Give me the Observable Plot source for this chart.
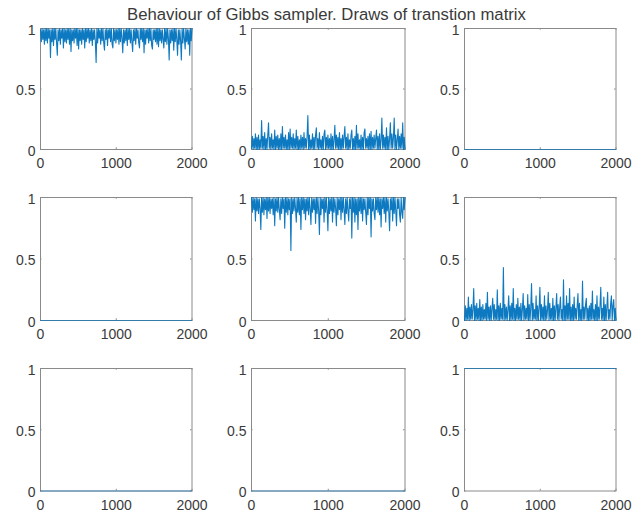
<!DOCTYPE html>
<html><head><meta charset="utf-8">
<script src="https://cdn.jsdelivr.net/npm/d3@7"></script>
<script src="https://cdn.jsdelivr.net/npm/@observablehq/plot@0.6"></script>
<style>
body{margin:0;background:#fff;}
#fig{position:relative;width:634px;height:517px;background:#fff;overflow:hidden;font-family:"Liberation Sans",Arial,sans-serif;}
#fig > svg{position:absolute;}
</style></head><body><div id="fig"></div>
<script>
const title = "Behaviour of Gibbs sampler. Draws of transtion matrix";
const xTicks = [0, 1000, 2000];
const yTicks = [0, 0.5, 1];
const drawRange = [1, 2000];

// Draws of P(1,1)
const p11 = [
0.99,0.89,1.00,0.91,0.99,0.87,1.00,0.90,1.00,0.88,1.00,0.92,0.99,0.76,0.99,0.89,1.00,0.86,1.00,0.91,
1.00,0.88,0.78,0.99,0.90,1.00,0.87,0.99,0.92,1.00,0.84,1.00,0.89,0.99,0.88,1.00,0.91,1.00,0.87,1.00,
0.81,0.99,0.90,0.99,0.88,1.00,0.92,1.00,0.86,1.00,0.83,0.99,0.90,0.99,0.87,1.00,0.91,0.99,0.84,1.00,
0.89,1.00,0.92,1.00,0.88,0.99,0.90,1.00,0.86,0.99,0.91,0.99,0.89,0.72,1.00,0.88,1.00,0.92,0.99,0.87,
1.00,0.90,1.00,0.88,0.82,0.99,0.91,1.00,0.86,0.99,0.92,1.00,0.89,1.00,0.87,0.84,1.00,0.90,0.99,0.88,
0.99,0.91,1.00,0.87,1.00,0.89,1.00,0.92,0.80,0.99,0.88,0.99,0.90,1.00,0.86,1.00,0.91,1.00,0.88,0.99,
0.89,0.81,0.99,0.90,1.00,0.87,1.00,0.92,0.99,0.88,0.84,1.00,0.91,1.00,0.89,1.00,0.80,0.99,0.87,0.99,
0.92,1.00,0.88,1.00,0.90,1.00,0.86,0.83,0.99,0.91,0.99,0.89,1.00,0.87,1.00,0.85,1.00,0.90,0.99,0.88,
0.99,0.91,0.84,1.00,0.89,1.00,0.87,1.00,0.92,0.74,0.99,0.88,0.99,0.90,1.00,0.82,1.00,0.89,1.00,0.91,
0.78,0.99,0.87,0.99,0.90,0.74,1.00,0.88,1.00,0.92,0.83,1.00,0.89,0.99,0.87,0.99,0.78,1.00,0.90,1.00
];
// Draws of P(1,2)
const p12 = [
0.01,0.11,0.00,0.09,0.01,0.13,0.00,0.10,0.00,0.12,0.00,0.08,0.01,0.24,0.01,0.11,0.00,0.14,0.00,0.09,
0.00,0.12,0.22,0.01,0.10,0.00,0.13,0.01,0.08,0.00,0.16,0.00,0.11,0.01,0.12,0.00,0.09,0.00,0.13,0.00,
0.19,0.01,0.10,0.01,0.12,0.00,0.08,0.00,0.14,0.00,0.17,0.01,0.10,0.01,0.13,0.00,0.09,0.01,0.16,0.00,
0.11,0.00,0.08,0.00,0.12,0.01,0.10,0.00,0.14,0.01,0.09,0.01,0.11,0.28,0.00,0.12,0.00,0.08,0.01,0.13,
0.00,0.10,0.00,0.12,0.18,0.01,0.09,0.00,0.14,0.01,0.08,0.00,0.11,0.00,0.13,0.16,0.00,0.10,0.01,0.12,
0.01,0.09,0.00,0.13,0.00,0.11,0.00,0.08,0.20,0.01,0.12,0.01,0.10,0.00,0.14,0.00,0.09,0.00,0.12,0.01,
0.11,0.19,0.01,0.10,0.00,0.13,0.00,0.08,0.01,0.12,0.16,0.00,0.09,0.00,0.11,0.00,0.20,0.01,0.13,0.01,
0.08,0.00,0.12,0.00,0.10,0.00,0.14,0.17,0.01,0.09,0.01,0.11,0.00,0.13,0.00,0.15,0.00,0.10,0.01,0.12,
0.01,0.09,0.16,0.00,0.11,0.00,0.13,0.00,0.08,0.26,0.01,0.12,0.01,0.10,0.00,0.18,0.00,0.11,0.00,0.09,
0.22,0.01,0.13,0.01,0.10,0.26,0.00,0.12,0.00,0.08,0.17,0.00,0.11,0.01,0.13,0.01,0.22,0.00,0.10,0.00
];
// Draws of P(1,3)
const p13 = [0, 0];
// Draws of P(2,1)
const p21 = [0, 0];
// Draws of P(2,2)
const p22 = [
1.00,0.88,1.00,0.90,0.99,0.81,1.00,0.89,0.99,0.87,0.99,0.91,0.74,1.00,0.88,1.00,0.86,0.99,0.90,1.00,
0.83,1.00,0.89,1.00,0.87,0.99,0.91,0.99,0.86,1.00,0.77,0.99,0.89,1.00,0.88,1.00,0.90,0.82,0.99,0.87,
1.00,0.91,0.99,0.75,1.00,0.88,1.00,0.86,0.99,0.90,0.99,0.57,1.00,0.87,0.99,0.89,1.00,0.91,0.80,1.00,
0.88,1.00,0.86,0.99,0.74,1.00,0.90,1.00,0.87,0.99,0.82,0.99,0.89,1.00,0.86,1.00,0.91,0.78,1.00,0.88,
0.99,0.90,0.99,0.79,1.00,0.87,1.00,0.89,0.70,1.00,0.86,0.99,0.91,0.99,0.80,1.00,0.88,1.00,0.90,0.73,
1.00,0.87,0.99,0.89,1.00,0.80,1.00,0.88,0.99,0.91,0.77,1.00,0.86,0.99,0.90,1.00,0.82,1.00,0.88,1.00,
0.90,0.78,0.99,0.87,1.00,0.89,0.81,0.99,0.91,1.00,0.67,1.00,0.88,1.00,0.80,0.99,0.86,0.99,0.74,1.00,
0.89,1.00,0.87,1.00,0.81,0.99,0.90,0.99,0.88,0.78,1.00,0.86,1.00,0.91,1.00,0.68,0.99,0.89,0.99,0.87,
0.82,1.00,0.90,1.00,0.88,1.00,0.86,0.99,0.76,0.99,0.91,1.00,0.87,1.00,0.80,1.00,0.89,0.99,0.88,0.73,
0.99,0.90,1.00,0.81,1.00,0.87,1.00,0.89,0.77,0.99,0.91,0.99,0.86,0.80,1.00,0.88,0.83,1.00,0.90,1.00
];
// Draws of P(2,3)
const p23 = [
0.00,0.12,0.00,0.10,0.01,0.19,0.00,0.11,0.01,0.13,0.01,0.09,0.26,0.00,0.12,0.00,0.14,0.01,0.10,0.00,
0.17,0.00,0.11,0.00,0.13,0.01,0.09,0.01,0.14,0.00,0.23,0.01,0.11,0.00,0.12,0.00,0.10,0.18,0.01,0.13,
0.00,0.09,0.01,0.25,0.00,0.12,0.00,0.14,0.01,0.10,0.01,0.43,0.00,0.13,0.01,0.11,0.00,0.09,0.20,0.00,
0.12,0.00,0.14,0.01,0.26,0.00,0.10,0.00,0.13,0.01,0.18,0.01,0.11,0.00,0.14,0.00,0.09,0.22,0.00,0.12,
0.01,0.10,0.01,0.21,0.00,0.13,0.00,0.11,0.30,0.00,0.14,0.01,0.09,0.01,0.20,0.00,0.12,0.00,0.10,0.27,
0.00,0.13,0.01,0.11,0.00,0.20,0.00,0.12,0.01,0.09,0.23,0.00,0.14,0.01,0.10,0.00,0.18,0.00,0.12,0.00,
0.10,0.22,0.01,0.13,0.00,0.11,0.19,0.01,0.09,0.00,0.33,0.00,0.12,0.00,0.20,0.01,0.14,0.01,0.26,0.00,
0.11,0.00,0.13,0.00,0.19,0.01,0.10,0.01,0.12,0.22,0.00,0.14,0.00,0.09,0.00,0.32,0.01,0.11,0.01,0.13,
0.18,0.00,0.10,0.00,0.12,0.00,0.14,0.01,0.24,0.01,0.09,0.00,0.13,0.00,0.20,0.00,0.11,0.01,0.12,0.27,
0.01,0.10,0.00,0.19,0.00,0.13,0.00,0.11,0.23,0.01,0.09,0.01,0.14,0.20,0.00,0.12,0.17,0.00,0.10,0.00
];
// Draws of P(3,1), P(3,2), P(3,3)
const p31 = [0, 0];
const p32 = [0, 0];
const p33 = [1, 1];

const series = [p11, p12, p13, p21, p22, p23, p31, p32, p33];

// layout (pixel frame of each subplot)
const colLeft = [39.5, 250.5, 463.5];
const colWidth = [151.5, 153.5, 151.5];
const rowTop = [27.5, 197, 368];
const rowHeight = [121, 123, 122.5];
const ML = 38, MR = 12, MT = 12, MB = 30;

const BLUE = "#0072BD";
const FRAME = "#8a8a8a";
const TEXT = "#3a3a3a";
const FONT = "'Liberation Sans', Arial, Helvetica, sans-serif";

const fig = document.getElementById("fig");

series.forEach((vals, k) => {
  const r = Math.floor(k / 3), c = k % 3;
  const w = colWidth[c], h = rowHeight[r];
  // draw index of each stored value, spread over the 2000 draws
  const xs = vals.map((_, i) => drawRange[0] + i * (drawRange[1] - drawRange[0]) / (vals.length - 1));
  const noisy = vals.length > 2;
  const plot = Plot.plot({
    width: ML + w + MR,
    height: MT + h + MB,
    marginLeft: ML, marginRight: MR, marginTop: MT, marginBottom: MB,
    style: {background: "transparent", fontSize: "14px", fontFamily: FONT, color: TEXT, overflow: "visible"},
    x: {domain: [0, 2000]},
    y: {domain: [0, 1]},
    marks: [
      Plot.frame({stroke: FRAME, strokeWidth: 1}),
      Plot.ruleX(xTicks, {x: d => d, y1: 0, y2: 0.014, stroke: FRAME}),
      Plot.ruleX(xTicks, {x: d => d, y1: 1, y2: 0.986, stroke: FRAME}),
      Plot.ruleY(yTicks, {y: d => d, x1: 0, x2: 20, stroke: FRAME}),
      Plot.ruleY(yTicks, {y: d => d, x1: 2000, x2: 1980, stroke: FRAME}),
      Plot.line(vals, {x: xs, y: vals, stroke: BLUE, strokeWidth: noisy ? 1.1 : 0.8, strokeOpacity: noisy ? 0.95 : 0.8}),
      Plot.axisX({ticks: xTicks, tickSize: 0, tickPadding: 9, tickFormat: d => String(d), label: null, fill: TEXT}),
      Plot.axisY({ticks: yTicks, tickSize: 0, tickPadding: 5, tickFormat: d => String(d), label: null, dy: 2, fill: TEXT})
    ]
  });
  plot.style.left = (colLeft[c] - ML) + "px";
  plot.style.top = (rowTop[r] - MT) + "px";
  fig.appendChild(plot);
});

const tsvg = d3.select(fig).append("svg")
  .attr("width", 634).attr("height", 30)
  .style("left", "0px").style("top", "0px");
tsvg.append("text")
  .attr("x", 326.5).attr("y", 20)
  .attr("text-anchor", "middle")
  .attr("font-family", FONT)
  .attr("font-size", "16.7px")
  .attr("fill", TEXT)
  .text(title);
</script></body></html>
